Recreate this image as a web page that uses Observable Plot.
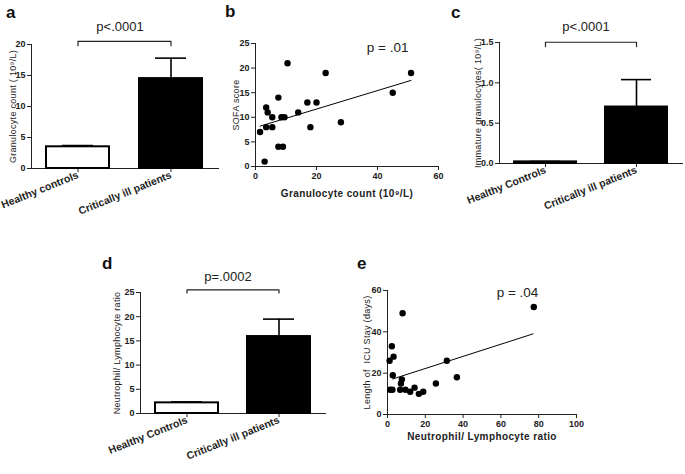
<!DOCTYPE html>
<html><head><meta charset="utf-8">
<script src="https://cdn.jsdelivr.net/npm/d3@7"></script>
<script src="https://cdn.jsdelivr.net/npm/@observablehq/plot@0.6"></script>
<style>
body{margin:0;background:#fff;font-family:"Liberation Sans",Arial,sans-serif;}
#fig{position:relative;width:685px;height:474px;background:#fff;overflow:hidden}
.panel{position:absolute}
.letter{position:absolute;font-weight:bold;font-size:17px;color:#111;line-height:1}
</style></head><body><div id="fig"></div>
<script>
// ---- data ----
const groupsA = ["Healthy controls", "Critically ill patients"];
const groupsC = ["Healthy Controls", "Critically ill patients"];
const granMean = [3.5, 14.5];
const granErr = [3.7, 17.8];
const igMean = [0.02, 0.70];
const igErr = [0.025, 1.04];
const nlrMean = [2.2, 15.9];
const nlrErr = [2.4, 19.5];

const sofaGran  = [1.5, 3, 3.5, 4, 3.5, 5.5, 5.5, 7.5, 7.5, 9, 8.5, 9.5, 10.5, 14, 17, 20, 18, 23, 28, 45, 51];
const sofaScore = [7,   1, 12,  11, 8,   10,  8,   14,  4,   4, 10,  10,  21,   11, 13, 13, 8,  19, 9,  15, 19];
const fitBx = [1.5, 51];
const fitBy = [8.2, 17.5];

const nlrX   = [1.4, 2.6, 1.1, 2.3, 3.2, 2.8, 8, 7.6, 7.1, 6.7, 9.5, 12, 14.3, 16.6, 18.9, 25.6, 31.4, 36.7, 77.4];
const icuDay = [12,  12,  26,  33,  28,  19,  49, 17, 15, 12,  12,  11, 13,   10,   11,   15,   26,   18,   52];
const fitEx = [2.8, 77];
const fitEy = [17.2, 39];

const pTexts = ["p<.0001", "p = .01", "p<.0001", "p=.0002", "p = .04"];
const letters = ["a", "b", "c", "d", "e"];

// ---- helpers ----
const fig = document.getElementById("fig");
const baseStyle = {fontFamily: "Liberation Sans, Arial, sans-serif", fontSize: "9px", fontWeight: "bold", color: "#222", background: "transparent", overflow: "visible"};

function place(node, left, top) {
  node.classList.add("panel");
  node.style.left = left + "px";
  node.style.top = top + "px";
  node.querySelectorAll('[aria-label="y-axis label"]').forEach(g => {
    g.setAttribute("font-weight", "normal");
    g.setAttribute("letter-spacing", "0.3px");
  });
  node.querySelectorAll('[aria-label="x-axis label"]').forEach(g => {
    g.setAttribute("font-size", "10px");
    g.setAttribute("letter-spacing", "0.4px");
  });
  fig.appendChild(node);
}

function barPanel(o) {
  const rows = o.cats.map((c, i) => ({group: c, mean: o.means[i], err: o.errs[i]}));
  const br = [
    {x: o.cats[0], y: o.drop}, {x: o.cats[0], y: o.bTop},
    {x: o.cats[1], y: o.bTop}, {x: o.cats[1], y: o.drop}
  ];
  const p = Plot.plot({
    width: o.width, height: o.height,
    marginLeft: o.mL, marginRight: o.mR, marginTop: o.mT, marginBottom: o.mB,
    style: baseStyle,
    x: {domain: o.cats, paddingInner: 0.32, paddingOuter: 0.16, align: 0.5, label: null, tickRotate: -22, tickSize: 4, tickPadding: 2, line: true},
    y: {domain: o.yDomain, ticks: o.yTicks, tickFormat: o.tickFormat, label: o.yLabel, labelAnchor: "center", labelOffset: o.labelOffset, labelArrow: "none", tickSize: 4, tickPadding: 2, line: true},
    marks: [
      Plot.ruleX(rows, {x: "group", y1: "mean", y2: "err", stroke: "black", strokeWidth: 1.6}),
      Plot.tickY(rows, {x: "group", y: "err", stroke: "black", strokeWidth: 1.6, insetLeft: 16, insetRight: 16}),
      Plot.barY(rows, {x: "group", y: "mean", fill: d => d.group === o.cats[0] ? "white" : "black", stroke: "black", strokeWidth: 2}),
      Plot.line(br, {x: "x", y: "y", stroke: "#222", strokeWidth: 1.2}),
      Plot.text([o.pText], {y: o.pY, dx: -5, text: d => d, fontSize: 13, fontWeight: "normal", fill: "#222"})
    ]
  });
  p.querySelectorAll('[aria-label="x-axis tick label"]').forEach(g => {
    g.setAttribute("font-size", "10.5px");
  });
  place(p, o.left, o.top);
}

function scatterPanel(o) {
  const pts = o.xs.map((x, i) => ({x, y: o.ys[i]}));
  const fit = o.fx.map((x, i) => ({x, y: o.fy[i]}));
  const p = Plot.plot({
    width: o.width, height: o.height,
    marginLeft: o.mL, marginRight: o.mR, marginTop: o.mT, marginBottom: o.mB,
    style: baseStyle,
    x: {domain: o.xDomain, ticks: o.xTicks, label: o.xLabel, labelAnchor: "center", labelOffset: o.xLabelOffset, labelArrow: "none", tickSize: 4, tickPadding: 2, line: true},
    y: {domain: o.yDomain, ticks: o.yTicks, label: o.yLabel, labelAnchor: "center", labelOffset: o.labelOffset, labelArrow: "none", tickSize: 4, tickPadding: 2, line: true},
    marks: [
      Plot.line(fit, {x: "x", y: "y", stroke: "black", strokeWidth: 1}),
      Plot.dot(pts, {x: "x", y: "y", r: 3.2, fill: "black", stroke: "none"}),
      Plot.text([o.pText], {x: o.px, y: o.pY, text: d => d, fontSize: 13.5, fontWeight: "normal", fill: "#222"})
    ]
  });
  place(p, o.left, o.top);
}

// ---- panels ----
barPanel({cats: groupsA, means: granMean, errs: granErr, yDomain: [0, 20], yTicks: [0, 5, 10, 15, 20],
  yLabel: "Granulocyte count ( 10⁹/L)", labelOffset: 22, bTop: 20.5, drop: 19.8, pText: pTexts[0], pY: 22.9,
  left: 0, top: 0, width: 228, height: 230, mL: 31, mR: 10, mT: 44, mB: 62});

scatterPanel({xs: sofaGran, ys: sofaScore, fx: fitBx, fy: fitBy, xDomain: [0, 60], xTicks: [0, 20, 40, 60],
  yDomain: [0, 25], yTicks: [0, 5, 10, 15, 20, 25], xLabel: "Granulocyte count (10⁹/L)", xLabelOffset: 30,
  yLabel: "SOFA score", labelOffset: 23, pText: pTexts[1], px: 43.3, pY: 24.2,
  left: 220, top: 0, width: 230, height: 230, mL: 35, mR: 12, mT: 43, mB: 64});

barPanel({cats: groupsC, means: igMean, errs: igErr, yDomain: [0, 1.5], yTicks: [0, 0.5, 1, 1.5], tickFormat: d3.format(".1f"),
  yLabel: "Immature granulocytes( 10⁹/L)", labelOffset: 25, bTop: 1.503, drop: 1.45, pText: pTexts[2], pY: 1.70,
  left: 450, top: 0, width: 235, height: 230, mL: 49, mR: 3, mT: 42, mB: 67});

barPanel({cats: groupsC, means: nlrMean, errs: nlrErr, yDomain: [0, 25], yTicks: [0, 5, 10, 15, 20, 25],
  yLabel: "Neutrophil/ Lymphocyte ratio", labelOffset: 27, bTop: 25.56, drop: 24.9, pText: pTexts[3], pY: 28.3,
  left: 100, top: 240, width: 230, height: 234, mL: 40, mR: 5, mT: 52, mB: 61});

scatterPanel({xs: nlrX, ys: icuDay, fx: fitEx, fy: fitEy, xDomain: [0, 100], xTicks: [0, 20, 40, 60, 80, 100],
  yDomain: [0, 60], yTicks: [0, 20, 40, 60], xLabel: "Neutrophil/ Lymphocyte ratio", xLabelOffset: 25,
  yLabel: "Length of  ICU Stay (days)", labelOffset: 24, pText: pTexts[4], px: 68.8, pY: 59,
  left: 340, top: 240, width: 250, height: 234, mL: 47, mR: 14, mT: 50, mB: 60});

// panel letters
const letterPos = [[6, 4], [225, 3], [451, 4], [102, 255], [357, 255]];
letters.forEach((l, i) => {
  const d = document.createElement("div");
  d.className = "letter";
  d.textContent = l;
  d.style.left = letterPos[i][0] + "px";
  d.style.top = letterPos[i][1] + "px";
  fig.appendChild(d);
});
</script></body></html>
